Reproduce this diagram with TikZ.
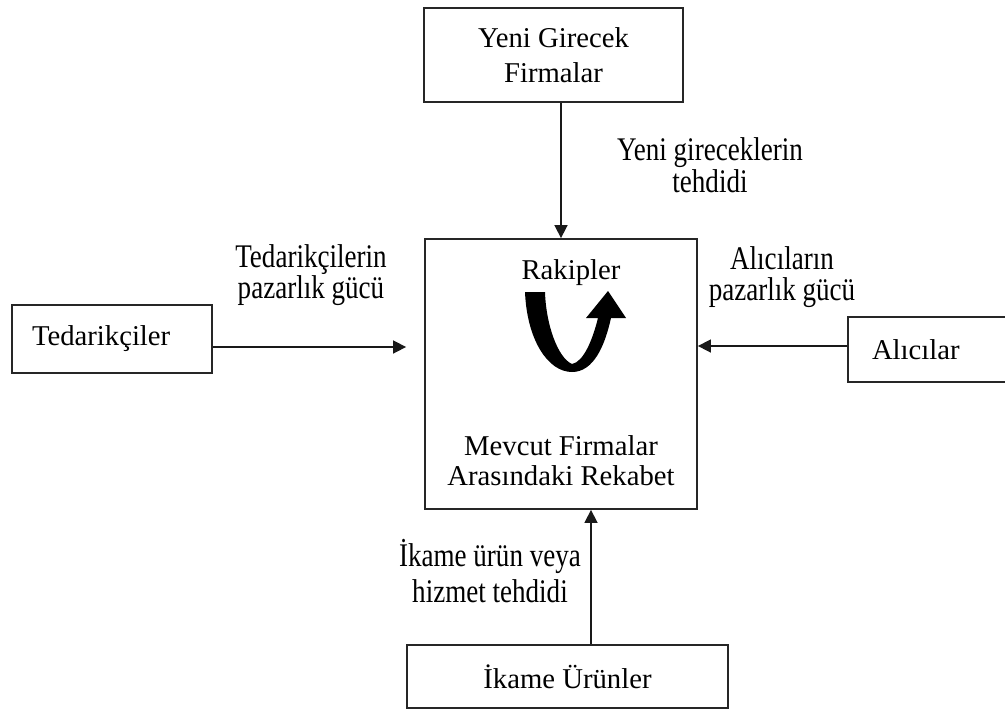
\documentclass[tikz,border=0pt]{standalone}
\usepackage{fontspec}
\setmainfont{Liberation Serif}
\newfontfamily\lblfont{Liberation Serif}[FakeStretch=0.82]
\usetikzlibrary{arrows.meta}
\tikzset{
  box/.style={draw=black!85, line width=1.8pt, inner sep=0pt, font=\fontsize{28.7}{35}\selectfont},
  boxtext/.style={inner sep=0pt, font=\fontsize{28.7}{30}\selectfont},
  lbl/.style={align=center, inner sep=0pt},
  flow/.style={line width=1.6pt, draw=black!90, -{Triangle[length=13pt,width=13pt]}},
}
\begin{document}
\begin{tikzpicture}[x=1pt,y=-1pt]
\useasboundingbox (0,0) rectangle (1005,710);
\clip (0,0) rectangle (1005,710);
% boxes
\node[box, minimum width=259pt, minimum height=94pt, align=center] (yeni) at (553.5,55) {Yeni Girecek\\Firmalar};
\node[box, minimum width=200pt, minimum height=68pt, text width=160pt, align=left, inner xsep=20pt] (ted) at (112,339) {Tedarikçiler};
\node[box, minimum width=162pt, minimum height=65pt, text width=114pt, align=left, inner xsep=24pt] (alici) at (929,349.5) {Alıcılar};
\node[box, minimum width=321pt, minimum height=63pt] (ikame) at (567.5,676.5) {İkame Ürünler};
\node[box, minimum width=272pt, minimum height=270pt] (main) at (561,374) {};
% texts inside the main box
\node[boxtext, anchor=base] (rakip) at (571,279) {Rakipler};
\node[boxtext, align=center] (rekabet) at (561,460.5) {Mevcut Firmalar\\Arasındaki Rekabet};
% curved arrow
\fill (525,292) .. controls (527,340) and (548,372) .. (572,372)
  .. controls (594,372) and (605,345) .. (611,318) -- (626,318) -- (608,291) -- (586,318) -- (598,318)
  .. controls (592,342) and (583,362) .. (572,364)
  .. controls (558,358) and (546,325) .. (545,292) -- cycle;
% connectors
\draw[flow] (yeni.south -| main.north) -- (main.north);
\draw[flow, shorten >=18pt] ([yshift=-8pt]ted.east) -- ([yshift=-8pt]ted.east -| main.west);
\draw[flow] ([yshift=3.5pt]alici.west) -- ([yshift=3.5pt]alici.west -| main.east);
\draw[flow] ([xshift=23.5pt]ikame.north) -- ([xshift=23.5pt]ikame.north |- main.south);
% labels
\node[lbl, font=\lblfont\fontsize{33}{32}\selectfont] (lblyeni) at (710,165) {Yeni gireceklerin\\tehdidi};
\node[lbl, font=\lblfont\fontsize{33}{29}\selectfont] (lblted) at (311,275) {Tedarikçilerin\\pazarlık gücü};
\node[lbl, font=\lblfont\fontsize{33}{31}\selectfont] (lblali) at (782,277) {Alıcıların\\pazarlık gücü};
\node[lbl, font=\lblfont\fontsize{33}{36}\selectfont] (lblikame) at (490,571) {İkame ürün veya\\hizmet tehdidi};
\end{tikzpicture}
\end{document}
